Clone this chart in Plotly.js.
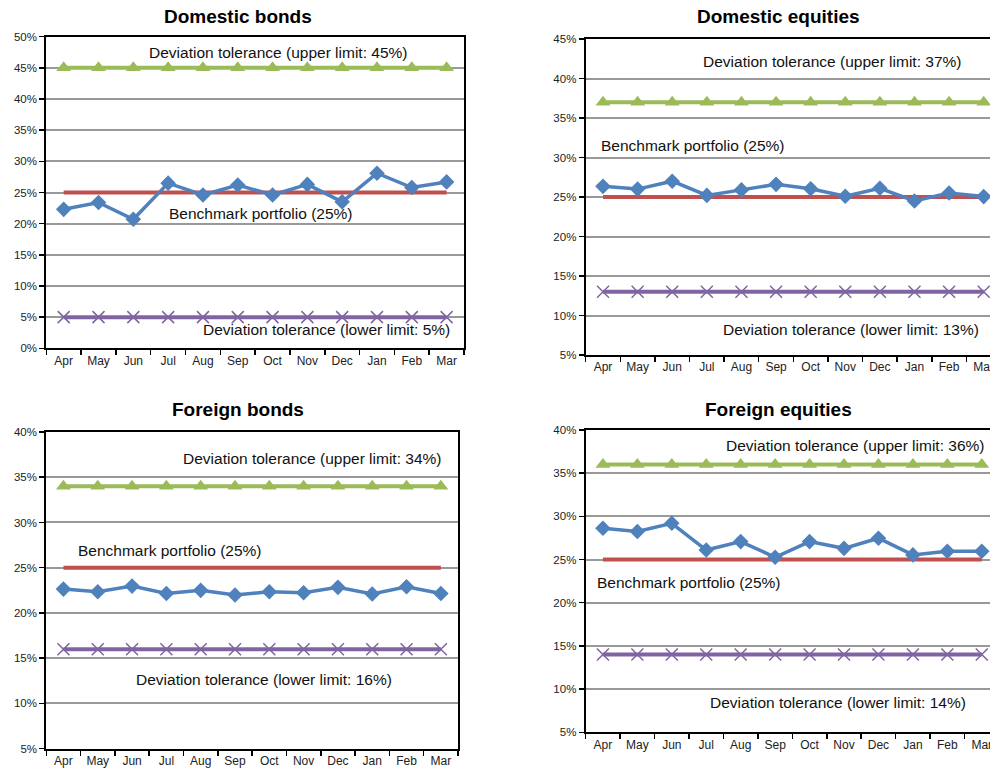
<!DOCTYPE html>
<html>
<head>
<meta charset="utf-8">
<script src="https://cdn.plot.ly/plotly-3.0.1.min.js"></script>
<style>
  html, body { margin: 0; padding: 0; overflow: hidden; background: #fff; }
  #chart { width: 1002px; height: 768px; }
</style>
</head>
<body>
<div id="chart"></div>
<script>
// Monthly asset allocation vs. benchmark and deviation tolerances (%)
const months = ["Apr", "May", "Jun", "Jul", "Aug", "Sep", "Oct", "Nov", "Dec", "Jan", "Feb", "Mar"];

const panelTitles = ["Domestic bonds", "Domestic equities", "Foreign bonds", "Foreign equities"];

const domesticBonds    = [22.3, 23.4, 20.7, 26.5, 24.6, 26.2, 24.6, 26.3, 23.5, 28.1, 25.8, 26.7];
const domesticEquities = [26.35, 26.0, 27.0, 25.2, 25.9, 26.6, 26.05, 25.1, 26.1, 24.5, 25.5, 25.05];
const foreignBonds     = [22.64, 22.35, 22.97, 22.16, 22.5, 21.98, 22.35, 22.24, 22.83, 22.1, 22.9, 22.16];
const foreignEquities  = [28.63, 28.24, 29.2, 26.1, 27.08, 25.27, 27.08, 26.3, 27.47, 25.54, 25.96, 25.96];

const benchmark   = [25, 25, 25, 25];
const upperLimits = [45, 37, 34, 36];
const lowerLimits = [5, 13, 16, 14];

const yRanges = [[0, 50], [5, 45], [5, 40], [5, 40]];

// Figure geometry (pixels)
const W = 1002, H = 768;
const plotBoxes = [
  { x0: 46.3, x1: 464, y0: 36.7, y1: 348.3 },
  { x0: 585.7, x1: 1001, y0: 39, y1: 355 },
  { x0: 46.3, x1: 458, y0: 432, y1: 748.7 },
  { x0: 585.7, x1: 999, y0: 430, y1: 732.3 }
];
const titlePos = [[238, 16], [778, 17], [238, 409], [778, 409]];
const upperTextPos = [[277.5, 53], [832, 62], [311.7, 458], [855, 445.7]];
const benchTextPos = [[261, 213], [692.5, 146], [170, 550], [689, 582.7]];
const lowerTextPos = [[326, 329], [851, 329], [264, 679], [838, 702.7]];

const actualSeries = [domesticBonds, domesticEquities, foreignBonds, foreignEquities];

const BLUE = "#4F81BD", RED = "#C0504D", GREEN = "#9BBB59", PURPLE = "#8064A2";

const px = x => x / W;
const py = y => 1 - y / H;

const traces = [];
const layout = {
  width: W, height: H,
  margin: { l: 0, r: 0, t: 0, b: 0 },
  paper_bgcolor: "#fff",
  plot_bgcolor: "#fff",
  showlegend: false,
  font: { family: "Arial, Liberation Sans, sans-serif", color: "#222" },
  annotations: []
};

const fill = n => months.map(() => n);

for (let i = 0; i < 4; i++) {
  const sfx = i === 0 ? "" : String(i + 1);
  const xa = "x" + sfx, ya = "y" + sfx;
  const box = plotBoxes[i];

  layout["xaxis" + sfx] = {
    domain: [px(box.x0), px(box.x1)],
    anchor: ya,
    type: "category",
    range: [-0.5, 11.5],
    showline: true, linecolor: "#000", linewidth: 2, mirror: true,
    ticks: "outside", tickson: "boundaries", ticklen: 5, tickcolor: "#000", tickwidth: 1.5,
    showgrid: false, zeroline: false,
    tickfont: { size: 12, color: "#222" },
    fixedrange: true
  };
  layout["yaxis" + sfx] = {
    domain: [py(box.y1), py(box.y0)],
    anchor: xa,
    range: yRanges[i],
    dtick: 5,
    ticksuffix: "%",
    showline: true, linecolor: "#000", linewidth: 2, mirror: true,
    ticks: "outside", ticklen: 5, tickcolor: "#000", tickwidth: 1.5,
    showgrid: true, gridcolor: "#999999", gridwidth: 2,
    zeroline: false,
    tickfont: { size: 11.5, color: "#222" },
    fixedrange: true
  };

  // Benchmark portfolio
  traces.push({
    x: months, y: fill(benchmark[i]), xaxis: xa, yaxis: ya,
    type: "scatter", mode: "lines",
    line: { color: RED, width: 4 },
    hoverinfo: "skip"
  });
  // Upper tolerance
  traces.push({
    x: months, y: fill(upperLimits[i]), xaxis: xa, yaxis: ya,
    type: "scatter", mode: "lines+markers",
    line: { color: GREEN, width: 4 },
    marker: { symbol: "triangle-up", size: 13, color: GREEN },
    hoverinfo: "skip"
  });
  // Lower tolerance
  traces.push({
    x: months, y: fill(lowerLimits[i]), xaxis: xa, yaxis: ya,
    type: "scatter", mode: "lines+markers",
    line: { color: PURPLE, width: 4 },
    marker: { symbol: "x-thin-open", size: 12, color: PURPLE, line: { color: PURPLE, width: 1.5 } },
    hoverinfo: "skip"
  });
  // Actual allocation
  traces.push({
    x: months, y: actualSeries[i], xaxis: xa, yaxis: ya,
    type: "scatter", mode: "lines+markers",
    line: { color: BLUE, width: 3.5 },
    marker: { symbol: "diamond", size: 12, color: BLUE },
    hoverinfo: "skip"
  });

  // Panel title
  layout.annotations.push({
    xref: "paper", yref: "paper",
    x: px(titlePos[i][0]), y: py(titlePos[i][1]),
    xanchor: "center", yanchor: "middle", showarrow: false,
    text: "<b>" + panelTitles[i] + "</b>",
    font: { size: 19, color: "#000", family: "Arial, Liberation Sans, sans-serif" }
  });

  const labels = [
    [upperTextPos[i], "Deviation tolerance (upper limit: " + upperLimits[i] + "%)"],
    [benchTextPos[i], "Benchmark portfolio (" + benchmark[i] + "%)"],
    [lowerTextPos[i], "Deviation tolerance (lower limit: " + lowerLimits[i] + "%)"]
  ];
  labels.forEach(([pos, txt]) => {
    layout.annotations.push({
      xref: "paper", yref: "paper",
      x: px(pos[0]), y: py(pos[1]),
      xanchor: "center", yanchor: "middle", showarrow: false,
      text: txt,
      font: { size: 15.5, color: "#111", family: "Arial, Liberation Sans, sans-serif" }
    });
  });
}

Plotly.newPlot("chart", traces, layout, { displayModeBar: false, staticPlot: true });
</script>
</body>
</html>
